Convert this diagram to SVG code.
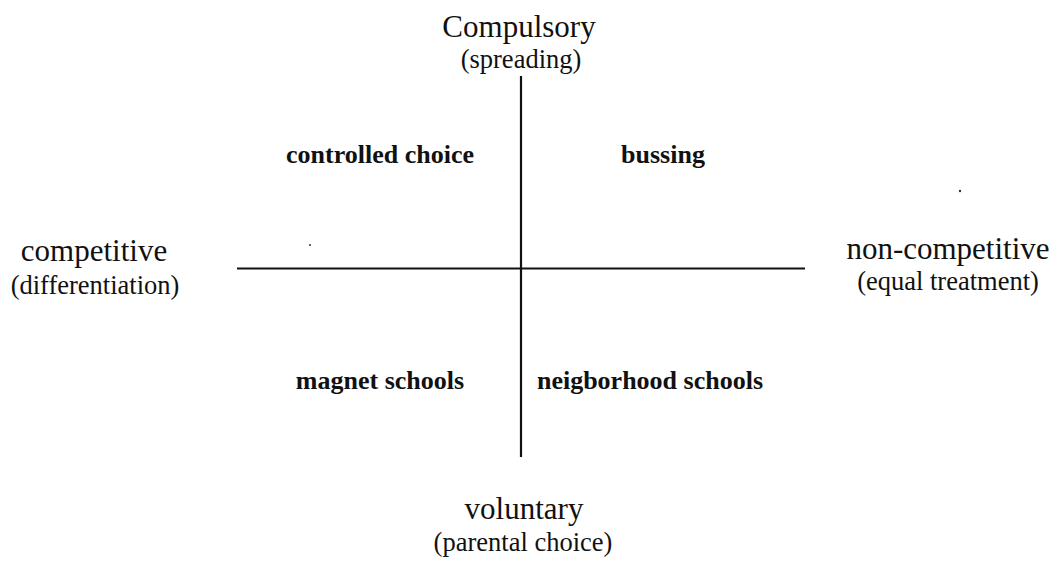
<svg xmlns="http://www.w3.org/2000/svg" width="1060" height="562" viewBox="0 0 1060 562">
<style>
.main{font-family:"Liberation Serif","Times New Roman",serif;font-size:31px;fill:#111;text-anchor:middle}
.sub{font-family:"Liberation Serif","Times New Roman",serif;font-size:26.5px;fill:#111;text-anchor:middle}
.quad{font-family:"Liberation Serif","Times New Roman",serif;font-size:26px;font-weight:bold;fill:#111;text-anchor:middle}
.axis{stroke:#111;stroke-width:2.2;fill:none}
</style>
<rect width="1060" height="562" fill="#fff"/>
<g id="connectors">
<line class="axis" x1="521" y1="76" x2="521" y2="457"/>
<line class="axis" x1="237" y1="268.5" x2="805" y2="268.5"/>
</g>
<g id="top"><text class="main" x="519" y="37">Compulsory</text><text class="sub" x="521" y="68">(spreading)</text></g>
<g id="left"><text class="main" x="94" y="261">competitive</text><text class="sub" x="95" y="294">(differentiation)</text></g>
<g id="right"><text class="main" x="948" y="259">non-competitive</text><text class="sub" x="948" y="290">(equal treatment)</text></g>
<g id="bottom"><text class="main" x="524" y="519">voluntary</text><text class="sub" x="523" y="551">(parental choice)</text></g>
<g id="q-controlled"><text class="quad" x="380" y="163">controlled choice</text></g>
<g id="q-bussing"><text class="quad" x="663" y="163">bussing</text></g>
<g id="q-magnet"><text class="quad" x="380" y="389">magnet schools</text></g>
<g id="q-neighborhood"><text class="quad" x="650" y="389">neigborhood schools</text></g>
<circle cx="310" cy="245" r="1" fill="#333"/>
<circle cx="960" cy="191" r="1.2" fill="#333"/>
</svg>
